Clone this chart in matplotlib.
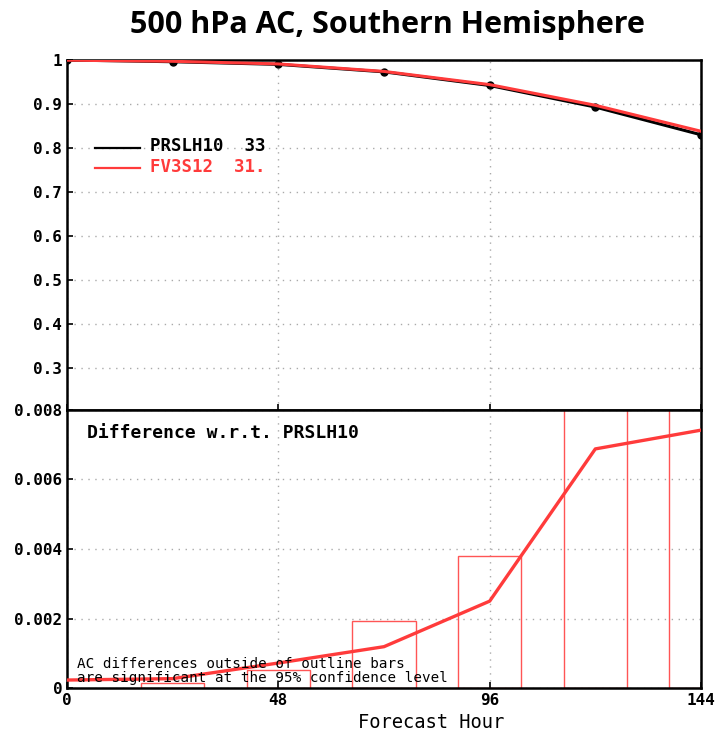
import matplotlib
matplotlib.use('Agg')
import matplotlib.pyplot as plt
from matplotlib.patches import Rectangle

# Dados
horas = [0, 24, 48, 72, 96, 120, 144]
ac_prslh10 = [1.0, 0.996, 0.990, 0.973, 0.942, 0.893, 0.830]
ac_fv3s12 = [0.9995, 0.997, 0.991, 0.974, 0.944, 0.897, 0.838]
diff = [0.00023, 0.00027, 0.00072, 0.00119, 0.0025, 0.00688, 0.00742]
barras_ic = [0.0, 0.000135, 0.00052, 0.00193, 0.0038, 0.0085, 0.0085]

nomes = ['PRSLH10  33', 'FV3S12  31.']
cores = ['black', '#ff3b3b']
top_ticks = [0.3, 0.4, 0.5, 0.6, 0.7, 0.8, 0.9, 1]
top_labels = ['0.3', '0.4', '0.5', '0.6', '0.7', '0.8', '0.9', '1']
bot_ticks = [0, 0.002, 0.004, 0.006, 0.008]
bot_labels = ['0', '0.002', '0.004', '0.006', '0.008']
x_ticks = [0, 48, 96, 144]

MONO = 'DejaVu Sans Mono'

fig = plt.figure(figsize=(7.2, 7.35), dpi=100)
fig.text(0.5375, 0.966, '500 hPa AC, Southern Hemisphere', ha='center', va='center',
         fontsize=22, fontweight='bold', family='Open Sans')

ax1 = fig.add_axes([0.0931, 0.4422, 0.8805, 0.4762])
ax2 = fig.add_axes([0.0931, 0.0639, 0.8805, 0.3783])

# painel de cima: AC
ax1.plot(horas, ac_prslh10, color=cores[0], lw=2.2, marker='o', ms=5, zorder=3)
ax1.plot(horas, ac_fv3s12, color=cores[1], lw=2.2, zorder=4)
ax1.set_xlim(0, 144)
ax1.set_ylim(0.2045, 1.0)
ax1.set_yticks(top_ticks)
ax1.set_yticklabels(top_labels)
ax1.set_xticks(x_ticks)
ax1.set_xticklabels([])

# legenda manual
for i, (nome, cor) in enumerate(zip(nomes, cores)):
    yl = 0.749 - i * 0.058
    ax1.plot([0.044, 0.115], [yl, yl], color=cor, lw=1.6, transform=ax1.transAxes)
    ax1.text(0.131, yl + 0.004, nome, color=cor, transform=ax1.transAxes,
             va='center', ha='left', fontsize=12.5, fontweight='bold', family=MONO)

# painel de baixo: diferença
for h, b in zip(horas, barras_ic):
    if b > 0:
        ax2.add_patch(Rectangle((h - 7.2, 0), 14.4, b, fill=False,
                                edgecolor='#ff5555', lw=1.0, zorder=2))
ax2.plot(horas, diff, color=cores[1], lw=2.4, zorder=4)
ax2.set_xlim(0, 144)
ax2.set_ylim(0, 0.008)
ax2.set_yticks(bot_ticks)
ax2.set_yticklabels(bot_labels)
ax2.set_xticks(x_ticks)
ax2.set_xticklabels([str(x) for x in x_ticks])
fig.text(431 / 720, 1 - 723 / 735, 'Forecast Hour', family=MONO, fontsize=13.5,
         ha='center', va='center')

ax2.text(0.031, 0.917, 'Difference w.r.t. PRSLH10', transform=ax2.transAxes,
         fontsize=13, fontweight='bold', family=MONO, va='center')
ax2.text(0.015, 0.061, 'AC differences outside of outline bars\nare significant at the 95% confidence level',
         transform=ax2.transAxes, fontsize=10.3, family=MONO, va='center',
         linespacing=0.95, zorder=5)

for ax in (ax1, ax2):
    ax.grid(True, color='#aaaaaa', linestyle=(0, (1, 4)), lw=1.0)
    ax.set_axisbelow(True)
    for s in ax.spines.values():
        s.set_linewidth(1.8)
    ax.tick_params(direction='in', length=4, width=1.2, labelsize=11.5)
    for lab in ax.get_yticklabels() + ax.get_xticklabels():
        lab.set_fontweight('bold')
        lab.set_family(MONO)

fig.savefig('out.png', dpi=100)
